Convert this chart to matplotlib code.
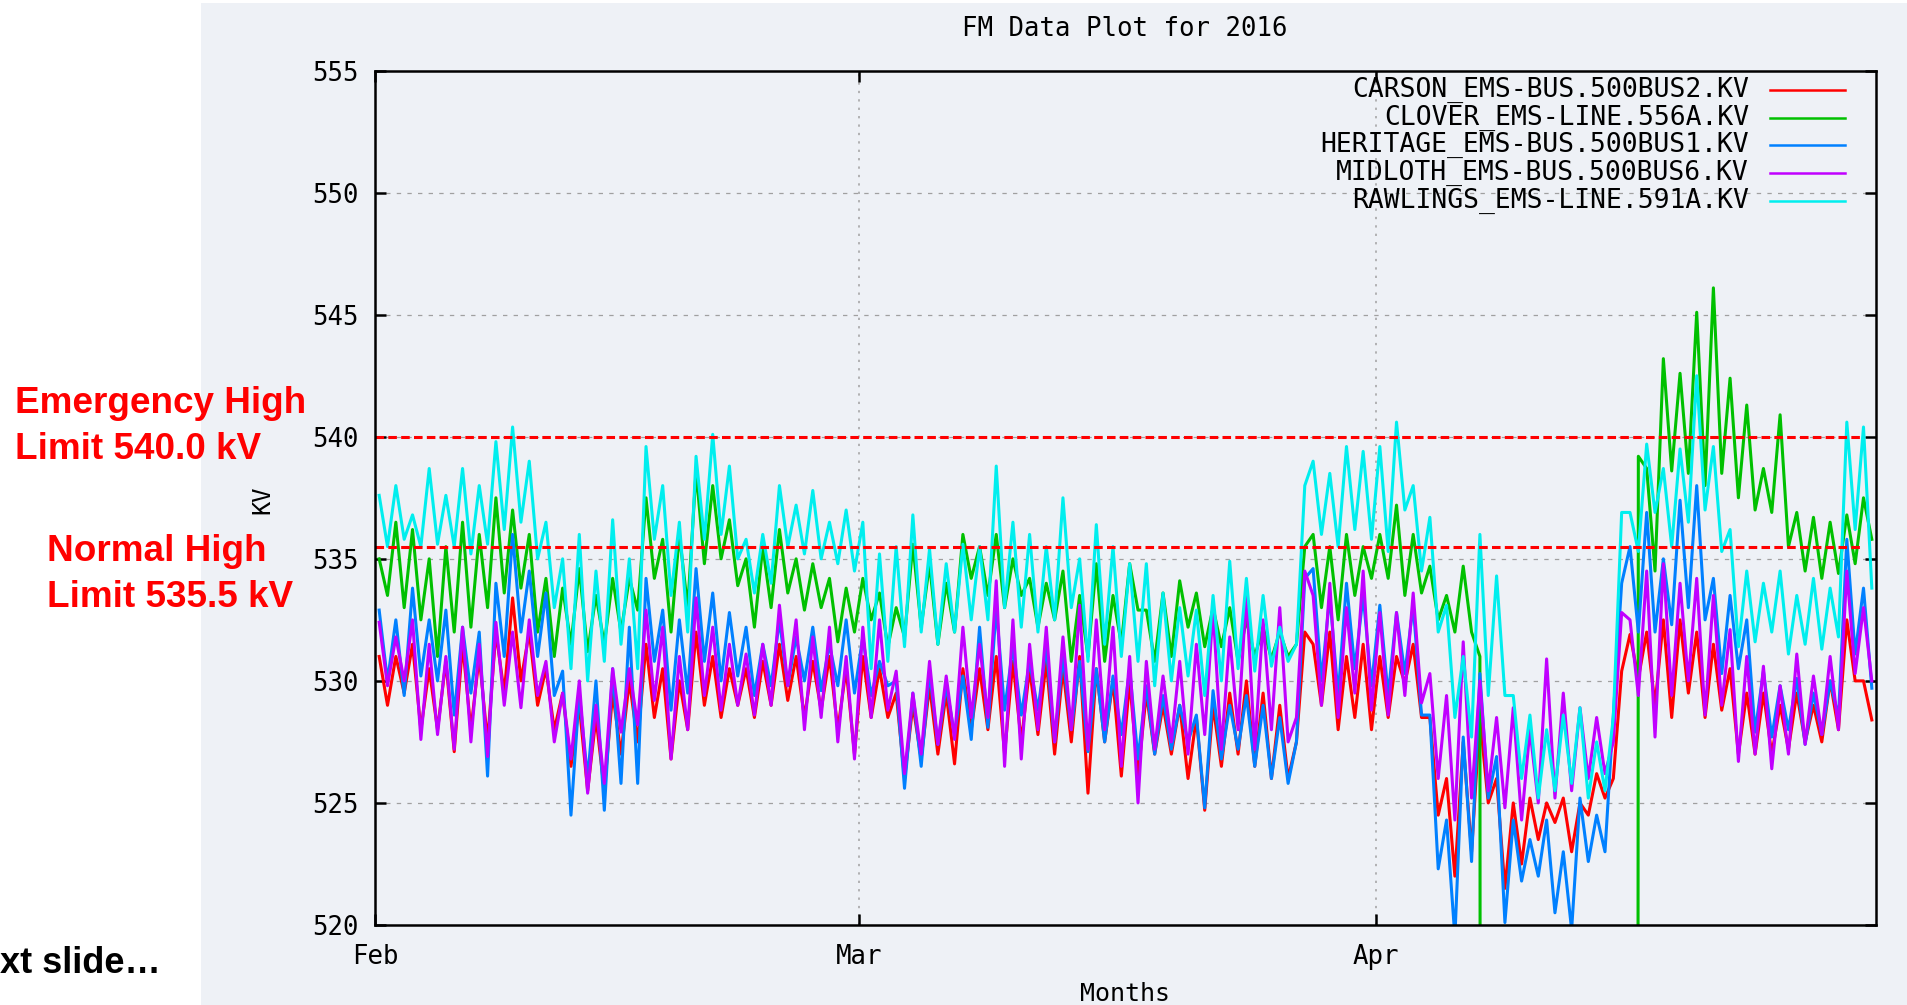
import numpy as np
import matplotlib
matplotlib.use('Agg')
import matplotlib.pyplot as plt
import matplotlib.dates as mdates
from matplotlib.patches import Rectangle

# --- chart text / axis values ---
title = 'FM Data Plot for 2016'
x_label = 'Months'
y_label = 'KV'
month_labels = ['Feb', 'Mar', 'Apr']
month_starts = ['2016-02-01', '2016-03-01', '2016-04-01']
x_end = '2016-05-01'
y_ticks = [520, 525, 530, 535, 540, 545, 550, 555]
emergency_limit = 540.0
normal_limit = 535.5

series_names = [
    'CARSON_EMS-BUS.500BUS2.KV',
    'CLOVER_EMS-LINE.556A.KV',
    'HERITAGE_EMS-BUS.500BUS1.KV',
    'MIDLOTH_EMS-BUS.500BUS6.KV',
    'RAWLINGS_EMS-LINE.591A.KV',
]
series_colors = ['#ff0000', '#00c000', '#0080ff', '#c000ff', '#00eeee']

# two readings per day (half-day steps), Feb 1 .. Apr 30
carson = [
    531.0, 529.0, 531.0, 529.5, 531.5, 528.0, 530.5, 528.0, 530.8, 527.1,
    531.5, 528.0, 531.0, 527.5, 532.0, 529.5, 533.4, 530.0, 532.0, 529.0,
    530.5, 528.0, 529.5, 526.5, 529.0, 525.5, 528.5, 525.5, 529.5, 527.0,
    530.0, 527.5, 531.5, 528.5, 530.5, 526.8, 530.0, 528.0, 532.0, 529.0,
    531.0, 528.5, 530.5, 529.0, 530.5, 528.5, 530.8, 529.0, 531.5, 529.2,
    531.0, 528.5, 530.8, 528.8, 531.0, 528.0, 530.5, 527.0, 531.0, 528.5,
    530.5, 528.5, 529.5, 526.0, 529.0, 526.8, 529.8, 527.0, 529.5, 526.6,
    530.5, 528.0, 530.5, 528.0, 531.0, 527.0, 530.8, 527.5, 530.5, 527.8,
    530.8, 527.0, 530.5, 527.5, 531.0, 525.4, 530.5, 527.5, 530.0, 526.1,
    530.0, 526.1, 529.5, 527.0, 529.0, 527.0, 529.0, 526.0, 528.5, 524.7,
    529.0, 526.5, 529.5, 527.0, 530.0, 526.5, 529.5, 526.0, 529.0, 526.0,
    527.5, 532.0, 531.5, 529.0, 532.0, 528.0, 531.0, 528.5, 531.5, 528.0,
    531.0, 528.5, 531.0, 529.9, 531.5, 528.5, 528.5, 524.5, 526.0, 522.0,
    527.5, 523.0, 528.5, 525.0, 526.0, 521.5, 525.0, 522.5, 525.2, 523.5,
    525.0, 524.2, 525.2, 523.0, 525.0, 524.5, 526.2, 525.2, 526.0, 530.4,
    531.9, 530.1, 532.0, 529.0, 532.5, 528.5, 532.5, 529.5, 532.0, 528.5,
    531.5, 528.8, 530.5, 527.0, 529.5, 527.0, 529.5, 527.0, 529.0, 527.2,
    529.5, 527.5, 529.0, 527.5, 530.0, 528.0, 532.5, 530.0, 530.0, 528.4,
]
# 0.0 = reading dropped out (below the axis) between Apr 7 and Apr 16
clover = [
    535.0, 533.5, 536.5, 533.0, 536.2, 532.5, 535.0, 531.0, 535.5, 532.0,
    536.5, 532.2, 536.0, 533.0, 537.5, 533.6, 537.0, 533.8, 536.0, 532.0,
    534.2, 531.0, 533.8, 531.5, 534.6, 531.2, 533.5, 531.5, 534.2, 532.0,
    534.2, 532.9, 537.5, 534.2, 535.8, 532.0, 536.0, 533.0, 538.6, 534.8,
    538.0, 535.0, 536.6, 533.9, 535.0, 532.2, 535.5, 533.0, 536.2, 533.6,
    535.0, 532.9, 534.8, 533.0, 534.2, 531.6, 533.8, 532.0, 534.2, 532.5,
    533.6, 531.4, 533.0, 531.8, 535.6, 532.2, 534.8, 531.5, 534.0, 532.0,
    536.0, 534.2, 535.5, 533.5, 536.0, 533.0, 535.0, 533.5, 534.2, 532.2,
    534.0, 532.5, 534.5, 530.8, 533.5, 531.0, 534.8, 530.8, 533.5, 531.5,
    534.8, 532.9, 532.9, 530.8, 533.6, 531.0, 534.1, 532.2, 533.6, 531.4,
    533.0, 531.4, 533.0, 530.8, 532.5, 531.0, 532.2, 530.9, 532.0, 531.0,
    531.5, 535.5, 536.0, 533.0, 535.5, 532.5, 536.0, 533.5, 535.5, 534.2,
    536.0, 534.2, 537.2, 533.5, 536.0, 533.6, 534.7, 532.5, 533.5, 532.0,
    534.7, 532.0, 531.0, 0.0, 0.0, 0.0, 0.0, 0.0, 0.0, 0.0,
    0.0, 0.0, 0.0, 0.0, 0.0, 0.0, 0.0, 0.0, 0.0, 0.0,
    0.0, 539.2, 538.7, 534.5, 543.2, 538.6, 542.6, 538.5, 545.1, 538.0,
    546.1, 538.5, 542.4, 537.5, 541.3, 537.0, 538.7, 536.9, 540.9, 535.5,
    536.9, 534.5, 536.7, 534.2, 536.5, 534.4, 536.8, 534.8, 537.5, 535.8,
]
heritage = [
    532.9, 530.0, 532.5, 529.4, 533.8, 530.2, 532.5, 530.0, 532.9, 528.6,
    532.2, 529.5, 532.0, 526.1, 534.0, 531.0, 536.0, 532.0, 534.5, 531.0,
    533.6, 529.4, 530.4, 524.5, 529.5, 526.0, 530.0, 524.7, 530.5, 525.8,
    532.2, 525.8, 534.2, 530.8, 532.9, 528.8, 532.5, 529.5, 534.6, 530.8,
    533.6, 530.0, 532.8, 530.2, 532.2, 529.4, 531.5, 529.8, 532.5, 529.8,
    531.8, 530.0, 532.2, 529.6, 531.5, 529.8, 532.5, 529.5, 531.8, 529.4,
    530.8, 529.8, 530.0, 525.6, 529.5, 526.5, 530.4, 527.4, 529.8, 527.8,
    530.2, 527.6, 532.2, 528.1, 533.0, 528.8, 531.4, 528.6, 530.8, 528.8,
    531.4, 527.5, 531.0, 528.0, 530.8, 527.1, 530.5, 527.5, 530.2, 527.8,
    530.5, 526.8, 529.8, 527.0, 529.4, 527.2, 529.0, 527.5, 528.6, 524.8,
    529.6, 526.8, 529.0, 527.2, 529.4, 526.5, 529.0, 526.0, 528.5, 525.8,
    527.5, 534.2, 534.6, 530.0, 533.5, 529.4, 534.0, 530.5, 533.5, 529.8,
    533.1, 529.4, 532.8, 530.3, 533.1, 528.6, 528.6, 522.3, 524.3, 519.5,
    527.7, 522.6, 530.3, 525.2, 526.9, 520.1, 524.3, 521.8, 523.5, 522.0,
    524.3, 520.5, 523.0, 519.8, 525.2, 522.6, 524.5, 523.0, 528.6, 534.0,
    535.5, 532.0, 536.9, 532.0, 535.0, 532.3, 537.4, 533.0, 538.0, 532.5,
    534.2, 530.3, 533.5, 530.5, 532.5, 527.9, 530.4, 527.7, 529.8, 528.0,
    530.1, 527.4, 529.5, 527.8, 530.0, 528.5, 535.8, 531.1, 533.8, 529.7,
]
midloth = [
    532.4, 529.8, 531.8, 530.0, 532.5, 527.6, 531.5, 527.8, 531.0, 527.2,
    532.2, 527.5, 531.5, 526.9, 532.4, 529.0, 532.0, 528.9, 532.5, 529.4,
    530.8, 527.5, 529.5, 526.8, 530.0, 525.4, 529.0, 525.8, 530.5, 527.9,
    530.5, 528.2, 532.9, 529.2, 532.2, 526.8, 531.0, 528.0, 533.4, 529.4,
    532.2, 528.8, 531.5, 529.0, 531.1, 528.6, 531.5, 529.0, 533.1, 529.8,
    532.5, 528.0, 531.8, 528.5, 532.2, 527.5, 531.0, 526.8, 532.2, 528.5,
    532.5, 528.8, 530.4, 526.2, 529.5, 527.0, 530.8, 527.4, 530.2, 527.6,
    532.2, 528.5, 531.5, 528.5, 534.1, 526.5, 532.5, 526.8, 531.5, 528.0,
    532.2, 527.5, 531.8, 528.0, 533.1, 527.2, 532.5, 528.0, 532.2, 526.5,
    531.0, 525.0, 530.8, 527.2, 530.2, 527.5, 530.8, 527.0, 531.5, 527.8,
    532.9, 527.2, 531.8, 528.0, 533.6, 527.2, 532.5, 528.0, 533.0, 527.5,
    528.5, 534.5, 533.5, 529.0, 534.0, 528.5, 533.0, 529.5, 534.5, 528.8,
    532.8, 528.6, 532.8, 529.4, 533.6, 529.1, 530.3, 526.0, 529.4, 524.3,
    531.6, 525.2, 530.0, 525.5, 528.5, 524.8, 528.9, 524.3, 528.0, 525.0,
    530.9, 525.2, 529.5, 525.5, 528.9, 526.0, 528.5, 526.2, 527.5, 532.8,
    532.5, 529.4, 534.5, 527.7, 534.8, 529.4, 534.0, 530.0, 534.2, 528.6,
    533.5, 529.0, 532.1, 526.7, 531.0, 527.0, 530.6, 526.4, 529.8, 527.0,
    531.1, 527.4, 530.2, 527.8, 531.0, 528.0, 534.5, 530.3, 533.0, 530.0,
]
rawlings = [
    537.6, 535.5, 538.0, 535.8, 536.8, 535.5, 538.7, 535.6, 537.6, 535.5,
    538.7, 535.2, 538.0, 535.6, 539.8, 536.2, 540.4, 536.5, 539.0, 535.0,
    536.5, 533.0, 535.0, 530.5, 536.0, 530.0, 534.5, 530.8, 536.6, 531.5,
    535.0, 530.5, 539.6, 535.8, 538.0, 533.5, 536.5, 532.0, 539.2, 535.8,
    540.1, 536.0, 538.8, 535.0, 535.8, 533.6, 536.0, 534.0, 538.0, 535.5,
    537.2, 535.2, 537.8, 535.0, 536.5, 534.8, 537.0, 534.5, 536.5, 530.5,
    535.2, 530.8, 535.5, 531.4, 536.8, 532.0, 535.4, 531.5, 534.8, 532.0,
    535.6, 532.5, 535.5, 532.5, 538.8, 533.0, 536.5, 532.2, 536.0, 532.0,
    535.5, 532.5, 537.5, 533.0, 535.0, 530.8, 536.4, 531.5, 535.5, 531.0,
    534.8, 530.8, 534.8, 529.8, 533.6, 530.0, 533.0, 530.2, 532.9, 529.4,
    533.5, 530.0, 534.9, 530.5, 534.2, 530.4, 533.5, 530.6, 532.2, 530.8,
    531.5, 538.0, 539.0, 536.0, 538.5, 535.5, 539.6, 536.2, 539.4, 535.8,
    539.6, 535.3, 540.6, 537.0, 538.0, 534.5, 536.7, 532.0, 533.1, 528.5,
    531.0, 527.7, 536.0, 529.4, 534.3, 529.4, 529.4, 526.0, 528.6, 525.2,
    528.0, 525.5, 528.6, 525.8, 528.9, 525.2, 527.5, 525.5, 528.5, 536.9,
    536.9, 535.3, 539.7, 536.9, 538.7, 535.5, 539.5, 536.5, 542.5, 537.0,
    539.6, 535.3, 536.2, 531.4, 534.5, 531.6, 534.0, 532.0, 534.5, 531.1,
    533.5, 531.5, 534.2, 531.3, 533.8, 531.8, 540.6, 536.2, 540.4, 533.8,
]

all_series = [carson, clover, heritage, midloth, rawlings]

# half-day time positions spanning Feb 1 .. May 1
t0 = mdates.datestr2num(month_starts[0])
t1 = mdates.datestr2num(x_end)
n = len(carson)
x = t0 + (np.arange(n) + 0.5) * (t1 - t0) / n

mono = 'DejaVu Sans Mono'
W, H = 1908, 1005

fig = plt.figure(figsize=(W / 100, H / 100), dpi=100)
fig.patch.set_facecolor('white')

# light grey slide panel behind the chart
panel = Rectangle((201 / W, 0), 1 - 201 / W, (H - 3) / H, transform=fig.transFigure,
                  facecolor='#eef1f6', edgecolor='none', zorder=-10)
fig.patches.append(panel)

ax = fig.add_axes([375 / W, 80 / H, 1501 / W, 854.4 / H])
ax.set_facecolor('none')
ax.set_zorder(1)

for vals, color in zip(all_series, series_colors):
    ax.plot(x, vals, color=color, lw=2.2, zorder=2)

# limit lines
ax.axhline(emergency_limit, xmin=0, xmax=0.99, color='#ff0000', lw=2.2,
           linestyle=(0, (2.8, 1.4)), zorder=5)
ax.axhline(normal_limit, xmin=0, xmax=0.99, color='#ff0000', lw=2.2,
           linestyle=(0, (2.8, 1.4)), zorder=5)

ax.set_xlim(t0, t1)
ax.set_ylim(y_ticks[0], y_ticks[-1])
ax.set_yticks(y_ticks)
ax.set_xticks([mdates.datestr2num(d) for d in month_starts])
ax.set_xticklabels(month_labels)

# gnuplot-like grid
for v in y_ticks[1:-1]:
    ax.axhline(v, color='#a0a0a0', lw=0.9, linestyle=(0, (3.5, 5)), zorder=1)
for d in month_starts[1:]:
    ax.axvline(mdates.datestr2num(d), color='#a0a0a0', lw=1.1, linestyle=(0, (1.5, 4)), zorder=1)

for sp in ax.spines.values():
    sp.set_linewidth(1.8)
    sp.set_color('black')
    sp.set_zorder(6)

ax.tick_params(axis='both', direction='in', length=8, width=1.8,
               top=True, right=True, labelsize=18.5)
ax.tick_params(axis='y', pad=12)
ax.tick_params(axis='x', pad=14)
for lab in ax.get_xticklabels() + ax.get_yticklabels():
    lab.set_family(mono)

# legend, gnuplot style (right-aligned text, sample line on the right)
leg_y = [0.9773, 0.9445, 0.9129, 0.8802, 0.8474]
for name, color, yy in zip(series_names, series_colors, leg_y):
    ax.text(0.9154, yy, name, transform=ax.transAxes, ha='right', va='center',
            fontsize=19, family=mono, zorder=7)
    ax.plot([0.9294, 0.9793], [yy, yy], transform=ax.transAxes, color=color,
            lw=1.8, clip_on=False, zorder=7)

fig.text(1125 / W, 1 - 29 / H, title, ha='center', va='center', fontsize=18.5, family=mono)
fig.text(1125 / W, 1 - 994 / H, x_label, ha='center', va='center', fontsize=18, family=mono)
fig.text(262 / W, 1 - 500 / H, y_label, ha='center', va='center', rotation=90,
         fontsize=17, family=mono)

# slide annotations
fig.text(15 / W, 1 - 386 / H, 'Emergency High\nLimit 540.0 kV', ha='left', va='top',
         color='#ff0000', fontsize=26.6, fontweight='bold', family='Liberation Sans',
         linespacing=1.42)
fig.text(47 / W, 1 - 534 / H, 'Normal High\nLimit 535.5 kV', ha='left', va='top',
         color='#ff0000', fontsize=26.6, fontweight='bold', family='Liberation Sans',
         linespacing=1.42)
fig.text(0, 1 - 973 / H, 'xt slide\u2026', ha='left', va='baseline',
         color='black', fontsize=26, fontweight='bold', family='Liberation Sans')

fig.savefig('out.png', dpi=100)
